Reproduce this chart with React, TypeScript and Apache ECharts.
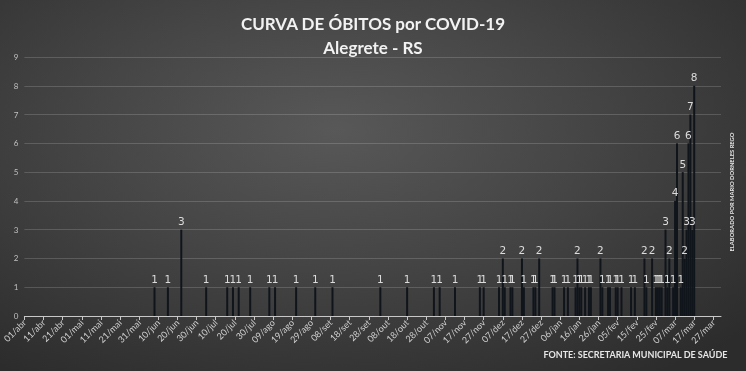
import React, { useEffect, useRef } from "react";
import * as echarts from "echarts";

const MONTHS = ["jan", "fev", "mar", "abr", "mai", "jun", "jul", "ago", "set", "out", "nov", "dez"];
const START_YEAR = 2020;
const START_MONTH = 3; // abril
const DAY_COUNT = 365; // 01/abr/2020 .. 31/mar/2021

const TITLE_LINE_1 = "CURVA DE ÓBITOS por COVID-19";
const TITLE_LINE_2 = "Alegrete - RS";
const SOURCE_TEXT = "FONTE: SECRETARIA MUNICIPAL DE SAÚDE";
const AUTHOR_TEXT = "ELABORADO POR MARIO DORNELES REGO";

const deathDates = [
  "08/jun", "15/jun", "22/jun", "05/jul", "16/jul", "19/jul", "22/jul", "28/jul",
  "07/ago", "10/ago", "21/ago", "31/ago", "09/set", "04/out", "18/out", "01/nov",
  "04/nov", "12/nov", "25/nov", "27/nov", "05/dez", "07/dez", "08/dez", "11/dez",
  "12/dez", "17/dez", "18/dez", "23/dez", "24/dez", "26/dez", "02/jan", "03/jan",
  "08/jan", "10/jan", "14/jan", "15/jan", "16/jan", "17/jan", "19/jan", "21/jan",
  "22/jan", "27/jan", "28/jan", "31/jan", "01/fev", "04/fev", "05/fev", "07/fev",
  "12/fev", "14/fev", "19/fev", "20/fev", "23/fev", "25/fev", "26/fev", "27/fev",
  "28/fev", "02/mar", "03/mar", "04/mar", "06/mar", "07/mar", "08/mar", "10/mar",
  "11/mar", "12/mar", "13/mar", "14/mar", "15/mar", "16/mar", "17/mar",
];
const deathCounts = [
  1, 1, 3, 1, 1, 1, 1, 1,
  1, 1, 1, 1, 1, 1, 1, 1,
  1, 1, 1, 1, 1, 2, 1, 1,
  1, 2, 1, 1, 1, 2, 1, 1,
  1, 1, 1, 2, 1, 1, 1, 1,
  1, 2, 1, 1, 1, 1, 1, 1,
  1, 1, 2, 1, 2, 1, 1, 1,
  1, 3, 1, 2, 1, 4, 6, 1,
  5, 2, 3, 6, 7, 3, 8,
];

const yTicks = [0, 1, 2, 3, 4, 5, 6, 7, 8, 9];

function buildCategories(): string[] {
  const out: string[] = [];
  for (let i = 0; i < DAY_COUNT; i++) {
    const d = new Date(Date.UTC(START_YEAR, START_MONTH, 1 + i));
    const dd = String(d.getUTCDate()).padStart(2, "0");
    out.push(dd + "/" + MONTHS[d.getUTCMonth()]);
  }
  return out;
}

export default function App() {
  const ref = useRef<HTMLDivElement>(null);

  useEffect(() => {
    document.body.style.margin = "0";
    const el = ref.current;
    if (!el) return;
    const chart = echarts.init(el, null, { renderer: "svg" });
    const categories = buildCategories();
    const countByDate = new Map<string, number>();
    deathDates.forEach((d, i) => countByDate.set(d, deathCounts[i]));
    const values = categories.map((c) => (countByDate.has(c) ? countByDate.get(c)! : null));

    chart.setOption({
      animation: false,
      title: [
        {
          text: TITLE_LINE_1,
          left: "center",
          top: 10,
          textStyle: { color: "#f2f2f2", fontFamily: "Lato", fontWeight: "bold", fontSize: 17 },
        },
        {
          text: TITLE_LINE_2,
          left: "center",
          top: 34,
          textStyle: { color: "#f2f2f2", fontFamily: "Lato", fontWeight: "bold", fontSize: 17 },
        },
        {
          text: SOURCE_TEXT,
          right: 13,
          bottom: 7,
          textStyle: { color: "#e6e6e6", fontFamily: "Lato", fontWeight: "bold", fontSize: 9 },
        },
      ],
      graphic: [
        {
          type: "text",
          x: 731,
          y: 192,
          rotation: Math.PI / 2,
          style: {
            text: AUTHOR_TEXT,
            fill: "#e6e6e6",
            font: "bold 5.8px Lato",
            textAlign: "center",
            textVerticalAlign: "middle",
          },
        },
      ],
      grid: { left: 20, right: 25, top: 57, bottom: 55, containLabel: false },
      xAxis: {
        type: "category",
        data: categories,
        boundaryGap: false,
        axisLine: { show: true, lineStyle: { color: "#c8c8c8", width: 1 } },
        axisTick: { show: true, interval: 9, length: 4, lineStyle: { color: "#c8c8c8" } },
        axisLabel: {
          interval: 9,
          rotate: 45,
          color: "#d0d0d0",
          fontSize: 9,
          fontFamily: "Lato",
          margin: 5,
        },
        splitLine: { show: false },
      },
      yAxis: {
        type: "value",
        min: yTicks[0],
        max: yTicks[yTicks.length - 1],
        interval: 1,
        axisLine: { show: false },
        axisTick: { show: false },
        axisLabel: { color: "#c0c0c0", fontSize: 8, fontFamily: "Lato", margin: 6 },
        splitLine: { show: true, lineStyle: { color: "rgba(255,255,255,0.16)", width: 1 } },
      },
      series: [
        {
          type: "bar",
          data: values,
          barWidth: 2,
          itemStyle: { color: "#10151c" },
          label: {
            show: true,
            position: "top",
            distance: 3,
            color: "#dcdcdc",
            fontSize: 10.5,
            fontFamily: "DejaVu Sans",
          },
        },
      ],
    });

    return () => chart.dispose();
  }, []);

  return (
    <div
      ref={ref}
      style={{
        position: "fixed",
        left: 0,
        top: 0,
        width: 746,
        height: 371,
        background:
          "radial-gradient(ellipse 75% 80% at 45% 35%, #585858 0%, #454545 45%, #2c2c2c 100%)",
      }}
    />
  );
}
